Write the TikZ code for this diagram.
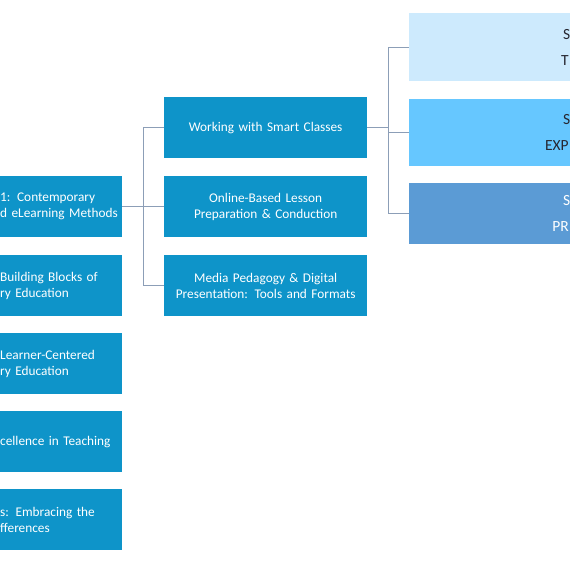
\documentclass[tikz,border=0pt]{standalone}
\usepackage{fontspec}
\setmainfont{Carlito}
\usetikzlibrary{positioning,calc}

\definecolor{boxblue}{RGB}{14,148,201}
\definecolor{paleblue}{RGB}{205,234,253}
\definecolor{skyblue}{RGB}{102,199,255}
\definecolor{midblue}{RGB}{91,155,213}
\definecolor{linkgray}{RGB}{140,158,183}
\definecolor{darktext}{RGB}{38,38,48}

\begin{document}
\begin{tikzpicture}[
    x=1pt, y=-1pt,
    modbox/.style={fill=boxblue, text=white, font=\fontsize{13.3}{16}\selectfont, inner sep=0pt, minimum height=61pt},
    leftbox/.style={modbox, anchor=north west, text width=122pt, align=left},
    midbox/.style={modbox, anchor=north west, text width=203pt, align=center},
    sidebox/.style={anchor=north west, inner sep=0pt, text width=161pt, align=right, font=\fontsize{15.5}{26}\selectfont},
    link/.style={draw=linkgray, line width=1.2pt}
]
\useasboundingbox (0,0) rectangle (570,570);
\clip (0,0) rectangle (570,570);

% Left column (cut at the page edge)
\node[leftbox] (mod1) at (0,176) {1: Contemporary\\d eLearning Methods};
\node[leftbox] (mod2) at (0,255) {Building Blocks of\\ry Education};
\node[leftbox] (mod3) at (0,333) {Learner-Centered\\ry Education};
\node[leftbox] (mod4) at (0,411) {cellence in Teaching};
\node[leftbox] (mod5) at (0,489) {s: Embracing the\\fferences};

% Middle column
\node[midbox] (smart) at (164,97) {Working with Smart Classes};
\node[midbox] (online) at (164,176) {Online-Based Lesson\\Preparation \& Conduction};
\node[midbox] (media) at (164,255) {Media Pedagogy \& Digital\\Presentation: Tools and Formats};

% Right column (cut at the page edge)
\node[sidebox, fill=paleblue, text=darktext, minimum height=68pt] (lvl1) at (409,13) {S\\T\hspace*{1.5pt}};
\node[sidebox, fill=skyblue, text=darktext, minimum height=67pt] (lvl2) at (409,99) {S\\EXP\hspace*{1.5pt}};
\node[sidebox, fill=midblue, text=white, minimum height=61pt] (lvl3) at (409,183) {S\\PR\hspace*{1.5pt}};

% Connectors
\draw[link] (mod1.east) -- (online.west);
\draw[link] (mod1.east) -- ++(21,0) |- (smart.west);
\draw[link] (mod1.east) -- ++(21,0) |- (media.west);

\draw[link] (smart.east) -- ++(21,0) |- (lvl1.west);
\draw[link] (smart.east) -- ++(21,0) |- (lvl2.west);
\draw[link] (smart.east) -- ++(21,0) |- (lvl3.west);

\end{tikzpicture}
\end{document}
